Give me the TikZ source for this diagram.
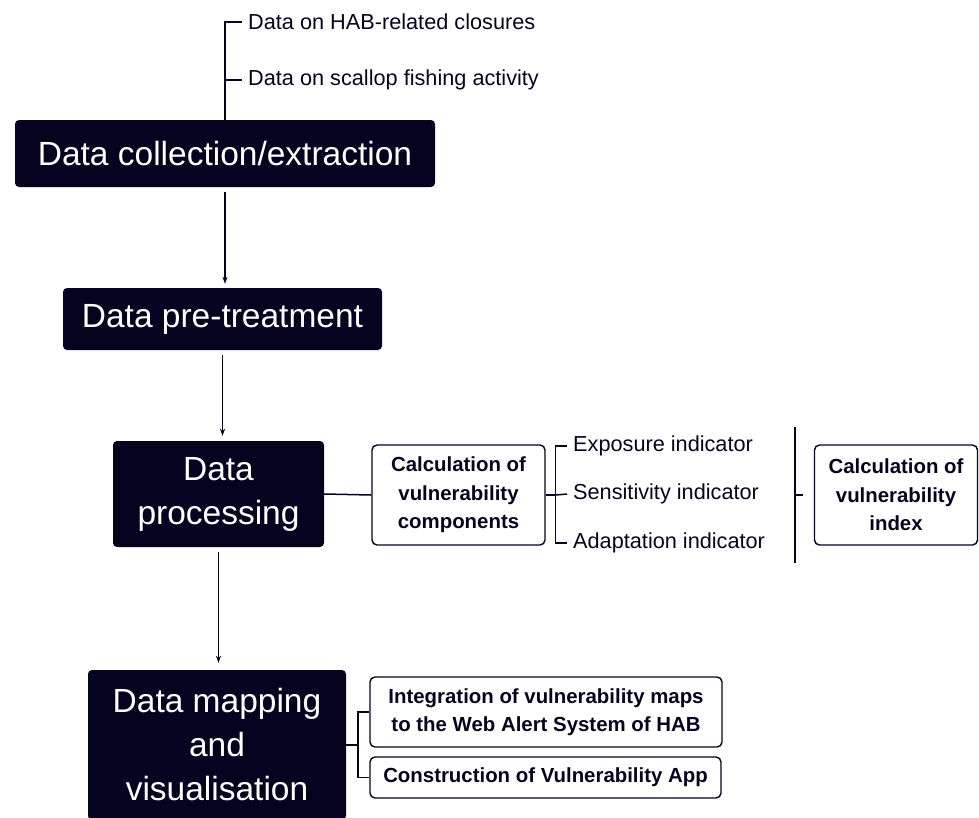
\documentclass[tikz,border=0pt]{standalone}
\usepackage{fontspec}
\setmainfont{Liberation Sans}
\usetikzlibrary{arrows.meta,positioning,calc}
\definecolor{navy}{HTML}{05031F}

\begin{document}
\begin{tikzpicture}[
    x=1pt, y=-1pt,
    stage/.style={rectangle, fill=navy, rounded corners=4pt, text=white, align=center, inner sep=0pt, font=\fontsize{33.5}{44}\selectfont},
    task/.style={rectangle, draw=navy, line width=1.4pt, rounded corners=5pt, align=center, text=navy, inner sep=0pt, font=\bfseries\fontsize{20.4}{28.5}\selectfont},
    item/.style={anchor=west, text=navy, inner xsep=6pt, inner ysep=0pt, font=\fontsize{21.7}{24}\selectfont},
    link/.style={draw=navy, line width=1.5pt},
    arr/.style={link, -{Stealth[length=7pt, width=5pt]}}
]
    \useasboundingbox (0,0) rectangle (979,817);

    % Stages
    \node[stage, minimum width=420pt, minimum height=67pt] (coll) at (225,153.5) {Data collection/extraction};
    \node[stage, minimum width=319pt, minimum height=62pt] (pre) at (222.5,319) {Data pre-treatment};
    \node[stage, minimum width=211pt, minimum height=106pt] (proc) at (218.5,494) {Data\\processing};
    \node[stage, minimum width=258pt, minimum height=150pt] (map) at (217,745) {Data mapping\\and\\visualisation};

    % Input data
    \node[item] (hab) at (242,22) {Data on HAB-related closures};
    \node[item] (fish) at (242,80) {Data on scallop fishing activity};

    % Processing tasks
    \node[task, minimum width=173pt, minimum height=100pt] (comp) at (458.5,495) {Calculation of\\vulnerability\\components};
    \node[item] (expo) at (567,446) {Exposure indicator};
    \node[item] (sens) at (567,494) {Sensitivity indicator};
    \node[item] (adap) at (567,543) {Adaptation indicator};
    \node[task, minimum width=163pt, minimum height=100pt] (vidx) at (896,495) {Calculation of\\vulnerability\\index};

    % Mapping tasks
    \node[task, minimum width=352pt, minimum height=70pt] (web) at (546,712) {Integration of vulnerability maps\\to the Web Alert System of HAB};
    \node[task, minimum width=351pt, minimum height=41pt] (app) at (545.5,777.5) {Construction of Vulnerability App};

    % Flow
    \draw[arr, shorten <=5pt, shorten >=4pt] (coll.south) -- (coll.south |- pre.north);
    \draw[arr, shorten <=5pt, shorten >=5pt] (pre.south) -- (pre.south |- proc.north);
    \draw[arr, shorten <=5pt, shorten >=7pt] (proc.south) -- (proc.south |- map.north);

    % Branches
    \draw[link] (coll.north) |- (hab.west);
    \draw[link] (coll.north |- fish.west) -- (fish.west);
    \draw[link] (proc.east) -- (comp.west);
    \draw[link] (comp.east) -- ++(10,0) coordinate (csplit);
    \draw[link] (csplit) |- (expo.west);
    \draw[link] (csplit) -- (sens.west);
    \draw[link] (csplit) |- (adap.west);
    \coordinate (bartop) at (795,427);
    \coordinate (barbot) at (795,563);
    \draw[link] (bartop) -- (barbot);
    \draw[link] (bartop |- vidx.west) -- ++(8,0);
    \draw[link] (map.east) -- ++(12,0) coordinate (msplit);
    \draw[link] (msplit) |- (web.west);
    \draw[link] (msplit) |- (app.west);
\end{tikzpicture}
\end{document}
